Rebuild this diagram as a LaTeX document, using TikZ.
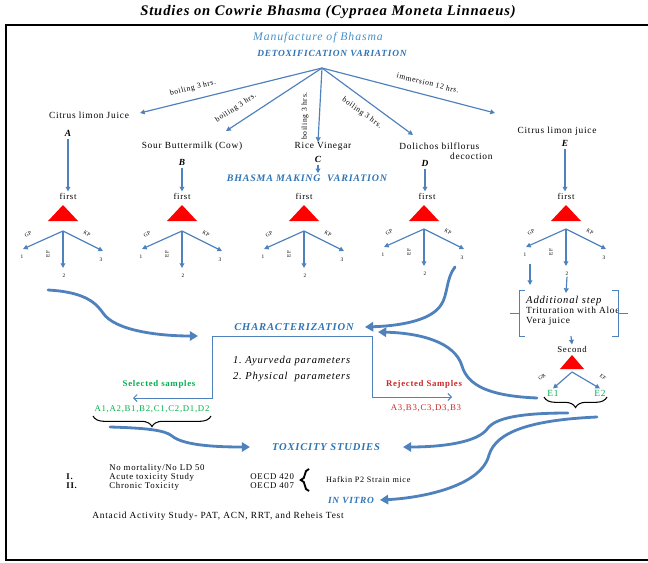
\documentclass[tikz,border=0pt]{standalone}
\usepackage{fontspec}
\setmainfont{Liberation Serif}[LetterSpace=8]
\newfontfamily\titlefont{Liberation Serif}[LetterSpace=6]
\usetikzlibrary{arrows.meta,decorations.pathreplacing}

\definecolor{headblue}{RGB}{46,116,181}
\definecolor{mfgblue}{RGB}{70,145,200}
\definecolor{arrblue}{RGB}{79,129,189}
\definecolor{selgreen}{RGB}{0,176,80}
\definecolor{rejred}{RGB}{200,40,40}

\tikzset{
  txt/.style={font=\fontsize{8}{9}\selectfont, inner sep=1pt},
  small/.style={font=\fontsize{7.5}{8.5}\selectfont, inner sep=1pt},
  lbl/.style={font=\fontsize{6.5}{7}\selectfont, inner sep=1pt},
  tiny/.style={font=\fontsize{4.5}{5}\selectfont, inner sep=0.5pt},
  head/.style={font=\fontsize{#1}{10}\selectfont\bfseries\itshape, text=headblue, inner sep=1pt},
  letter/.style={font=\fontsize{8}{9}\selectfont\bfseries\itshape, inner sep=2pt},
  arr/.style={draw=arrblue, line width=1pt, -{Triangle[length=4pt,width=4pt]}},
  thinarr/.style={draw=arrblue, line width=0.8pt, -{Straight Barb[length=3pt,width=6pt]}},
  bigarr/.style={draw=arrblue, line width=2.4pt, line cap=round, -{Triangle[length=7pt,width=8pt]}},
  brc/.style={decorate, decoration={brace, mirror, amplitude=#1}, line width=0.9pt},
}

\begin{document}
\begin{tikzpicture}[x=0.03cm,y=-0.03cm]
    \useasboundingbox (0,0) rectangle (648,562);
    \draw[line width=2pt] (648,25) -| (6,560) -- (648,560); % frame

    \node[font=\titlefont\fontsize{12.5}{15}\selectfont\bfseries\itshape] (title) at (328,12) {Studies on Cowrie Bhasma (Cypraea Moneta Linnaeus)};

    % detoxification fan
    \node[font=\fontsize{10}{12}\selectfont\itshape, text=mfgblue] (mfg) at (318,38) {Manufacture of Bhasma};
    \node[head=8] (detox) at (332,53) {DETOXIFICATION VARIATION};
    \coordinate (src) at (322,68);
    \coordinate (tipA) at (140,113); \coordinate (tipB) at (226,131); \coordinate (tipC) at (318,142);
    \coordinate (tipD) at (413,135); \coordinate (tipE) at (495,113);
    \foreach \c in {A, B, C, D, E}
        \draw[arr] (src) -- (tip\c);

    \node[lbl, rotate=14]  (boilA) at (193,88)  {boiling 3 hrs.};
    \node[lbl, rotate=33]  (boilB) at (236,108) {boiling 3 hrs.};
    \node[lbl, rotate=90]  (boilC) at (305,116) {boiling 3 hrs.};
    \node[lbl, rotate=-36] (boilD) at (362,113) {boiling 3 hrs.};
    \node[lbl, rotate=-14] (immE)  at (428,83)  {immersion 12 hrs.};

    \node[txt] (srcA) at (89,115) {Citrus limon Juice};
    \node[txt] (srcB) at (192,146) {Sour Buttermilk (Cow)};
    \node[txt] (srcC) at (323,146) {Rice Vinegar};
    \node[txt, anchor=west] (srcD) at (398,146) {Dolichos bilflorus};
    \node[txt, anchor=east] (decD) at (494,156) {decoction};
    \node[txt] (srcE) at (557,131) {Citrus limon juice};

    \node[letter] (ltA) at (68,133) {A}; \node[letter] (ltB) at (182,162) {B}; \node[letter] (ltC) at (318,159) {C};
    \node[letter] (ltD) at (425,163) {D}; \node[letter] (ltE) at (565,143) {E};
    \node[head=8.5] (bmv) at (307,178) {BHASMA MAKING\ \ VARIATION};

    % bhasma making
    \node[small] (fiA) at (68,196) {first}; \node[small] (fiB) at (182,196) {first}; \node[small] (fiC) at (304,196) {first};
    \node[small] (fiD) at (427,196) {first}; \node[small] (fiE) at (566,196) {first};
    \foreach \c in {A, B, D, E}
        \draw[arr] (lt\c) -- (lt\c |- fi\c.north);
    \draw[arr] (ltC) -- (ltC |- bmv.north);

    \foreach \c/\x/\y in {A/63/231, B/182/231, C/304/231, D/424/229, E/566/229} {
        \fill[red] (\x-15,221) -- (\x+15,221) -- (\x,205) -- cycle;
        \coordinate (ap\c) at (\x,\y);
        \coordinate (gp\c) at ([shift={(-40,18)}]ap\c);
        \coordinate (ef\c) at ([shift={(0,37)}]ap\c);
        \coordinate (kp\c) at ([shift={(40,20)}]ap\c);
        \draw[arr] (ap\c) -- (gp\c);
        \draw[arr] (ap\c) -- (ef\c);
        \draw[arr] (ap\c) -- (kp\c);
        \node[tiny] (one\c) at ([shift={(-41,26)}]ap\c) {1};
        \node[tiny] (two\c) at ([shift={(1,45)}]ap\c) {2};
        \node[tiny] (three\c) at ([shift={(38,29)}]ap\c) {3};
        \node[tiny, rotate=30] at ([shift={(-35,3)}]ap\c) {GP};
        \node[tiny, rotate=-30] at ([shift={(24,3)}]ap\c) {KP};
        \node[tiny, rotate=90] at ([shift={(-15,23)}]ap\c) {EF};
    }

    % additional step for E
    \coordinate (in1) at (530,285); \coordinate (in2) at (566,293);
    \draw[arr] (oneE.south -| in1) ++(0,6) -- (in1);
    \draw[arr] (twoE.south) -- (in2);
    \node[anchor=north west, align=left, font=\fontsize{8}{8.5}\selectfont, inner sep=0pt] (addst) at (526,296)
        {{\fontsize{9}{8.5}\selectfont\itshape Additional step}\\Trituration with Aloe\\Vera juice};
    \draw[arrblue, line width=0.8pt] (525,290) -- (519,290) -- (519,336) -- (525,336) (510,313) -- (519,313);
    \draw[arrblue, line width=0.8pt] (612,290) -- (618,290) -- (618,336) -- (612,336) (618,313) -- (628,313);
    \node[small] (sec) at (572,349) {Second};
    \coordinate (out) at (571,336);
    \draw[arr] (out) -- (sec.north);
    \fill[red] (560,369) -- (584,369) -- (572,355) -- cycle;
    \coordinate (apS) at (572,372);
    \node[txt, text=selgreen] (e1) at (553,393) {E1};
    \node[txt, text=selgreen] (e2) at (600,393) {E2};
    \draw[arr] (apS) -- (e1.north);
    \draw[arr] (apS) -- (e2.north);
    \node[tiny, rotate=40] at (542,377) {GR};
    \node[tiny, rotate=-40] at (603,377) {EF};
    \draw[brc=9pt] (544,397) -- (607,397);

    % characterization
    \node[head=9] (char) at (294,327) {CHARACTERIZATION};
    \coordinate (chL) at (212,336); \coordinate (chR) at (372,336);
    \coordinate (selTip) at (133,398); \coordinate (rejTip) at (452,397);
    \draw[arrblue, line width=0.8pt] (chL) -- (chR);
    \draw[thinarr] (chL) |- (selTip);
    \draw[thinarr] (chR) |- (rejTip);
    \node[font=\fontsize{9}{10}\selectfont\itshape, anchor=west] (ayu) at (229,361) {1.\ Ayurveda parameters};
    \node[font=\fontsize{9}{10}\selectfont\itshape, anchor=west] (phy) at (229,377) {2.\ Physical\ \ parameters};
    \node[font=\fontsize{7.5}{9}\selectfont\bfseries, text=selgreen] (sel) at (159,384) {Selected samples};
    \node[font=\fontsize{7.5}{9}\selectfont, text=selgreen] (selL) at (152,409) {A1,A2,B1,B2,C1,C2,D1,D2};
    \node[font=\fontsize{7.5}{9}\selectfont\bfseries, text=rejred] (rej) at (424,384) {Rejected Samples};
    \node[font=\fontsize{7.5}{9}\selectfont, text=rejred] (rejL) at (426,408) {A3,B3,C3,D3,B3};
    \draw[brc=9pt] (93,416) -- (211,416);

    % curved arrows
    \coordinate (cA0) at (48,290);  \coordinate (cA1) at (198,336);
    \coordinate (cB0) at (455,267); \coordinate (cB1) at (365,327);
    \coordinate (cC0) at (537,398); \coordinate (cC1) at (378,332);
    \coordinate (cD0) at (110,427); \coordinate (cD1) at (250,447);
    \coordinate (cE0) at (568,413); \coordinate (cE1) at (403,447);
    \coordinate (cF0) at (597,417); \coordinate (cF1) at (380,500);
    \draw[bigarr] (cA0) .. controls (85,292) and (96,303) .. (103,313) .. controls (115,331) and (160,336) .. (cA1);
    \draw[bigarr] (cB0) .. controls (446,278) and (448,295) .. (441,305) .. controls (430,322) and (395,326) .. (cB1);
    \draw[bigarr] (cC0) .. controls (490,396) and (468,386) .. (462,366) .. controls (455,342) and (420,333) .. (cC1);
    \draw[bigarr] (cD0) .. controls (145,428) and (165,430) .. (172,436) .. controls (184,446) and (220,447) .. (cD1);
    \draw[bigarr] (cE0) .. controls (520,413) and (496,418) .. (488,428) .. controls (478,443) and (440,447) .. (cE1);
    \draw[bigarr] (cF0) .. controls (530,420) and (496,432) .. (489,455) .. controls (481,487) and (420,498) .. (cF1);

    % toxicity
    \node[head=9] (tox) at (326,447) {TOXICITY STUDIES};
    \node[small, anchor=west] (nomort) at (108,468) {No mortality/No LD 50};
    \node[small, anchor=west] (r1) at (65,477) {\textbf{I.}};
    \node[small, anchor=west] (acute) at (108,477) {Acute toxicity Study};
    \node[small, anchor=west] (r2) at (65,486) {\textbf{II.}};
    \node[small, anchor=west] (chron) at (108,486) {Chronic Toxicity};
    \node[small, anchor=west] (oecdA) at (249,477) {OECD 420};
    \node[small, anchor=west] (oecdB) at (249,486) {OECD 407};
    \draw[decorate, decoration={brace, amplitude=7pt}, line width=1.6pt] (309,491) -- (309,469);
    \node[font=\fontsize{7}{8}\selectfont, anchor=west] (hafkin) at (322,480) {Hafkin P2 Strain mice};
    \node[head=8] (vitro) at (351,500) {IN VITRO};
    \node[txt, anchor=west] (antacid) at (91,516) {Antacid Activity Study- PAT, ACN, RRT, and Reheis Test};
\end{tikzpicture}
\end{document}
